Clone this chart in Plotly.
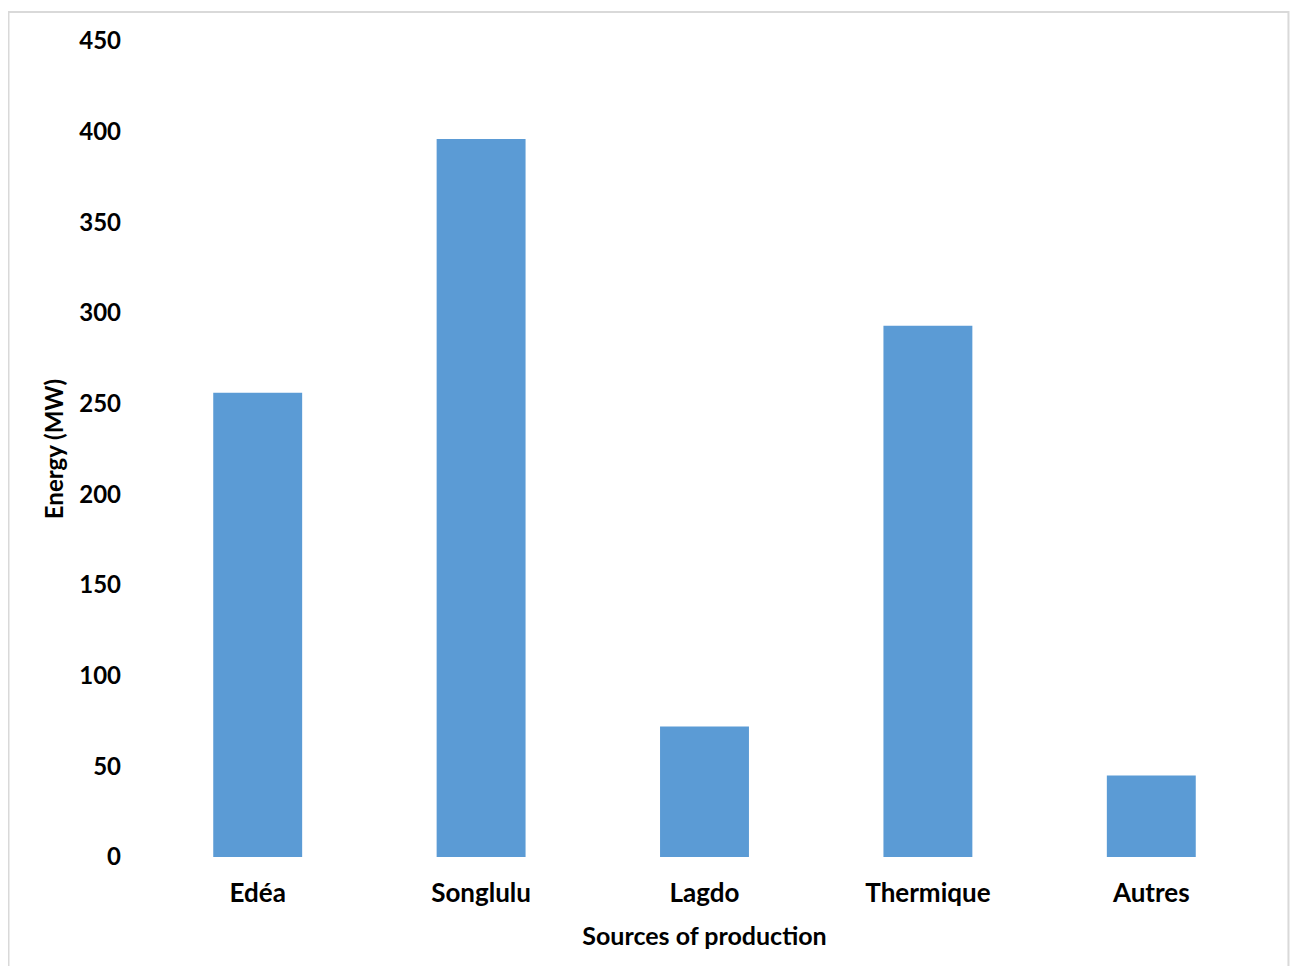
import plotly.graph_objects as go

categories = ["Edéa", "Songlulu", "Lagdo", "Thermique", "Autres"]
energy_mw = [256, 396, 72, 293, 45]
y_ticks = [0, 50, 100, 150, 200, 250, 300, 350, 400, 450]

FONT = "Lato"

fig = go.Figure(
    go.Bar(
        x=categories,
        y=energy_mw,
        marker=dict(color="#5B9BD5", line=dict(width=0)),
    )
)

fig.update_layout(
    width=1282,
    height=958,
    paper_bgcolor="white",
    plot_bgcolor="white",
    margin=dict(l=138, r=27, t=33, b=109),
    bargap=0.602,
    showlegend=False,
    font=dict(family=FONT, color="black"),
    shapes=[
        dict(type="rect", xref="paper", yref="paper",
             x0=-0.1231, x1=1.0228, y0=-0.2, y1=1.0355,
             line=dict(color="#D9D9D9", width=2), layer="below"),
    ],
)

fig.update_xaxes(
    showgrid=False, showline=False, zeroline=False,
    tickfont=dict(family=FONT, size=26, color="black", weight="bold"),
    ticklabelstandoff=18,
    title=dict(text="<b>Sources of production</b>",
               font=dict(family=FONT, size=25, color="black"), standoff=20),
)
fig.update_yaxes(
    range=[0, 450],
    tickvals=y_ticks,
    showgrid=False, showline=False, zeroline=False,
    tickfont=dict(family=FONT, size=24, color="black", weight="bold"),
    ticklabelstandoff=24,
    title=dict(text="<b>Energy (MW)</b>",
               font=dict(family=FONT, size=24, color="black"), standoff=8),
)

fig.write_html("out.html")
